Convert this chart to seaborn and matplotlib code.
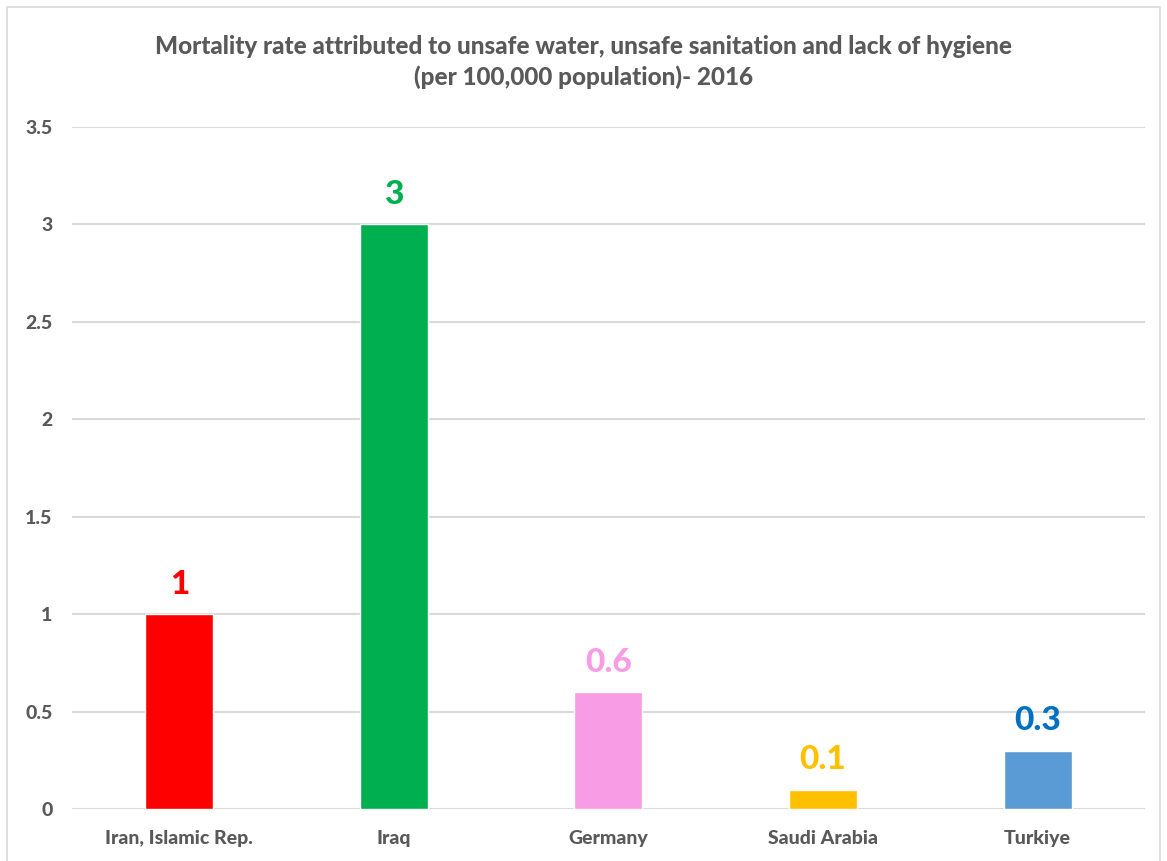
import matplotlib
matplotlib.use("Agg")
import matplotlib.pyplot as plt
import seaborn as sns
import pandas as pd
from matplotlib.patches import Rectangle

# данные
countries = ["Iran, Islamic Rep.", "Iraq", "Germany", "Saudi Arabia", "Turkiye"]
values = [1, 3, 0.6, 0.1, 0.3]
value_labels = ["1", "3", "0.6", "0.1", "0.3"]
bar_colors = ["#FF0000", "#00B050", "#F99CE6", "#FFC000", "#5B9BD5"]
label_colors = ["#FF0000", "#00B050", "#F99CE6", "#FFC000", "#0070C0"]
yticks = [0, 0.5, 1, 1.5, 2, 2.5, 3, 3.5]
ytick_labels = ["0", "0.5", "1", "1.5", "2", "2.5", "3", "3.5"]

df = pd.DataFrame({"Country": countries, "Value": values})

sns.set_style("white")
plt.rcParams["font.family"] = ["Lato", "DejaVu Sans"]

fig = plt.figure(figsize=(11.67, 8.61), dpi=100)
ax = fig.add_axes([0.0617, 0.0604, 0.9193, 0.7921])

sns.barplot(data=df, x="Country", y="Value", hue="Country", palette=bar_colors,
            legend=False, width=0.317, ax=ax, saturation=1)

ax.set_ylim(0, 3.5)
ax.set_xlim(-0.5, len(countries) - 0.5)
ax.set_yticks(yticks)
ax.set_yticklabels(ytick_labels)
ax.grid(True, axis="y", color="#D9D9D9", linewidth=1.5)
ax.set_axisbelow(True)
for s in ax.spines.values():
    s.set_visible(False)
ax.tick_params(axis="both", length=0, labelsize=14, labelcolor="#595959")
ax.tick_params(axis="y", pad=14)
ax.tick_params(axis="x", pad=15)
for t in ax.get_xticklabels() + ax.get_yticklabels():
    t.set_fontweight("black")
ax.set_xlabel("")
ax.set_ylabel("")

# подписи значений
for i, (v, lab, c) in enumerate(zip(values, value_labels, label_colors)):
    ax.annotate(lab, (i, v), xytext=(0, 11), textcoords="offset points",
                ha="center", va="bottom", fontsize=24, fontweight="black", color=c)

fig.text(0.5, 0.928, "Mortality rate attributed to unsafe water, unsafe sanitation and lack of hygiene\n"
         "(per 100,000 population)- 2016", ha="center", va="center",
         fontsize=17.5, fontweight="black", color="#595959", linespacing=1.4)

# рамка
fig.patches.append(Rectangle((7 / 1167, -0.02), (1160 - 7) / 1167, 1.02 - 7 / 861,
                             transform=fig.transFigure, fill=False,
                             edgecolor="#D9D9D9", linewidth=1.2))

fig.savefig("out.png", dpi=100)
